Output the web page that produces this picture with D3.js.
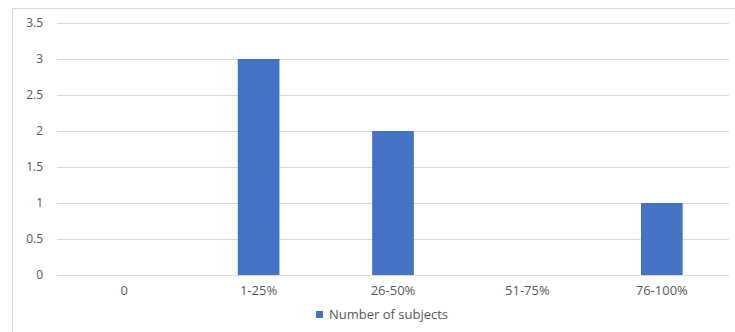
<!DOCTYPE html>
<meta charset="utf-8">
<style>
    body { margin: 0; background: #fff; }
    text { font-family: "Open Sans", "Noto Sans", sans-serif; fill: #595959; }
</style>
<svg id="chart" width="735" height="332"></svg>
<script src="https://d3js.org/d3.v7.min.js"></script>
<script>
    // data
    var categories = ["0", "1-25%", "26-50%", "51-75%", "76-100%"];
    var subjects = [0, 3, 2, 0, 1];
    var yTicks = [0, 0.5, 1, 1.5, 2, 2.5, 3, 3.5];
    var seriesName = "Number of subjects";

    var svg = d3.select("#chart");
    var plotLeft = 57, plotRight = 729, plotTop = 23, plotBottom = 275;

    // outer frame of the chart area
    svg.append("rect")
        .attr("x", 12.5).attr("y", 8.5)
        .attr("width", 740).attr("height", 340)
        .attr("fill", "none").attr("stroke", "#d9d9d9");

    var x = d3.scaleBand().domain(categories).range([plotLeft, plotRight]).paddingInner(0.69).paddingOuter(0.345);
    var y = d3.scaleLinear().domain([0, 3.5]).range([plotBottom, plotTop]);

    // gridlines
    svg.append("g").selectAll("line")
        .data(yTicks)
        .join("line")
        .attr("x1", plotLeft).attr("x2", plotRight)
        .attr("y1", d => Math.round(y(d)) + 0.5).attr("y2", d => Math.round(y(d)) + 0.5)
        .attr("stroke", "#d9d9d9");

    // y labels
    svg.append("g").selectAll("text")
        .data(yTicks)
        .join("text")
        .attr("x", 43).attr("y", d => y(d))
        .attr("dy", "0.35em")
        .attr("text-anchor", "end")
        .attr("font-size", 12)
        .text(d => d);

    // bars
    svg.append("g").selectAll("rect")
        .data(subjects)
        .join("rect")
        .attr("x", (d, i) => x(categories[i]))
        .attr("y", d => y(d))
        .attr("width", x.bandwidth())
        .attr("height", d => y(0) - y(d))
        .attr("fill", "#4472c4");

    // x labels
    svg.append("g").selectAll("text")
        .data(categories)
        .join("text")
        .attr("x", d => x(d) + x.bandwidth() / 2)
        .attr("y", 295)
        .attr("text-anchor", "middle")
        .attr("font-size", 13)
        .text(d => d);

    // legend
    var lg = svg.append("g").attr("transform", "translate(316,311)");
    lg.append("rect").attr("width", 7).attr("height", 7).attr("fill", "#4472c4");
    lg.append("text").attr("x", 13).attr("y", 8).attr("font-size", 13).text(seriesName);
</script>
